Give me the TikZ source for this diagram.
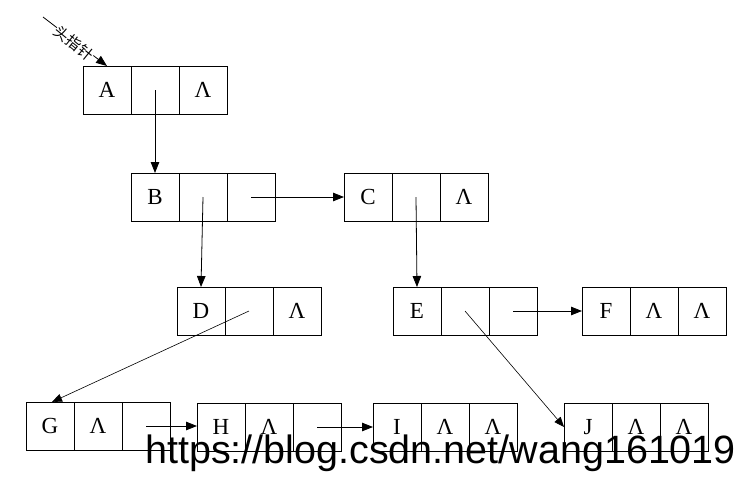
\documentclass[tikz,border=0pt]{standalone}
\usepackage{fontspec}
\setmainfont{Liberation Serif}
\newfontfamily\wmfont{Liberation Sans}
\newfontfamily\cjk{Noto Sans CJK SC}
\usetikzlibrary{arrows.meta}
\tikzset{
  cell/.style={draw, line width=0.8pt, minimum width=48pt, minimum height=48pt,
    inner sep=0pt, outer sep=0pt, font=\fontsize{23}{23}\selectfont},
  arr/.style={line width=0.8pt, -{Triangle[length=11pt,width=8.5pt]}},
  thinarr/.style={line width=0.6pt, -{Triangle[length=10pt,width=8pt]}},
}
\newcommand\lnode[6]{%
  \node[cell] (#1a) at (#2+24,#3+24) {#4};
  \node[cell,anchor=west] (#1b) at (#1a.east) {#5};
  \node[cell,anchor=west] (#1c) at (#1b.east) {#6};
}
\begin{document}
\begin{tikzpicture}[x=1pt,y=-1pt]
\useasboundingbox (0,0) rectangle (747,483);
\lnode{A}{83}{66}{A}{}{Λ}
\lnode{B}{131}{173}{B}{}{}
\lnode{C}{344}{173}{C}{}{Λ}
\lnode{D}{177}{287}{D}{}{Λ}
\lnode{E}{393}{287}{E}{}{}
\lnode{F}{582}{287}{F}{Λ}{Λ}
\lnode{G}{26}{402}{G}{Λ}{}
\lnode{H}{197}{403}{H}{Λ}{}
\lnode{I}{373}{403}{I}{Λ}{Λ}
\lnode{J}{564}{403}{J}{Λ}{Λ}
% head pointer
\coordinate (hp) at (43,17);
\draw[arr] (hp) -- (Aa.north);
\node[font=\cjk\fontsize{15}{15}\selectfont, rotate=-39, fill=white, inner sep=0.3pt] (hptext) at (74,43) {头指针};
% connectors
\draw[arr] (Ab.center) -- (Ba.north);
\draw[arr] (Bb.center) -- (Da.north);
\draw[arr] (Bc.center) -- (Ca.west);
\draw[arr] (Cb.center) -- (Ea.north);
\draw[arr] (Ec.center) -- (Fa.west);
\draw[thinarr] (Db.center) -- ([xshift=2pt]Ga.north);
\draw[thinarr] (Eb.center) -- (Ja.west);
\draw[arr] (Gc.center) -- (Gc.center -| Ha.west);
\draw[arr] (Hc.center) -- (Ia.west);
% watermark
\node[anchor=base west, inner sep=0pt, font=\wmfont\fontsize{39.5}{40}\selectfont] (wm) at (145,463) {https://blog.csdn.net/wang161019};
\end{tikzpicture}
\end{document}
